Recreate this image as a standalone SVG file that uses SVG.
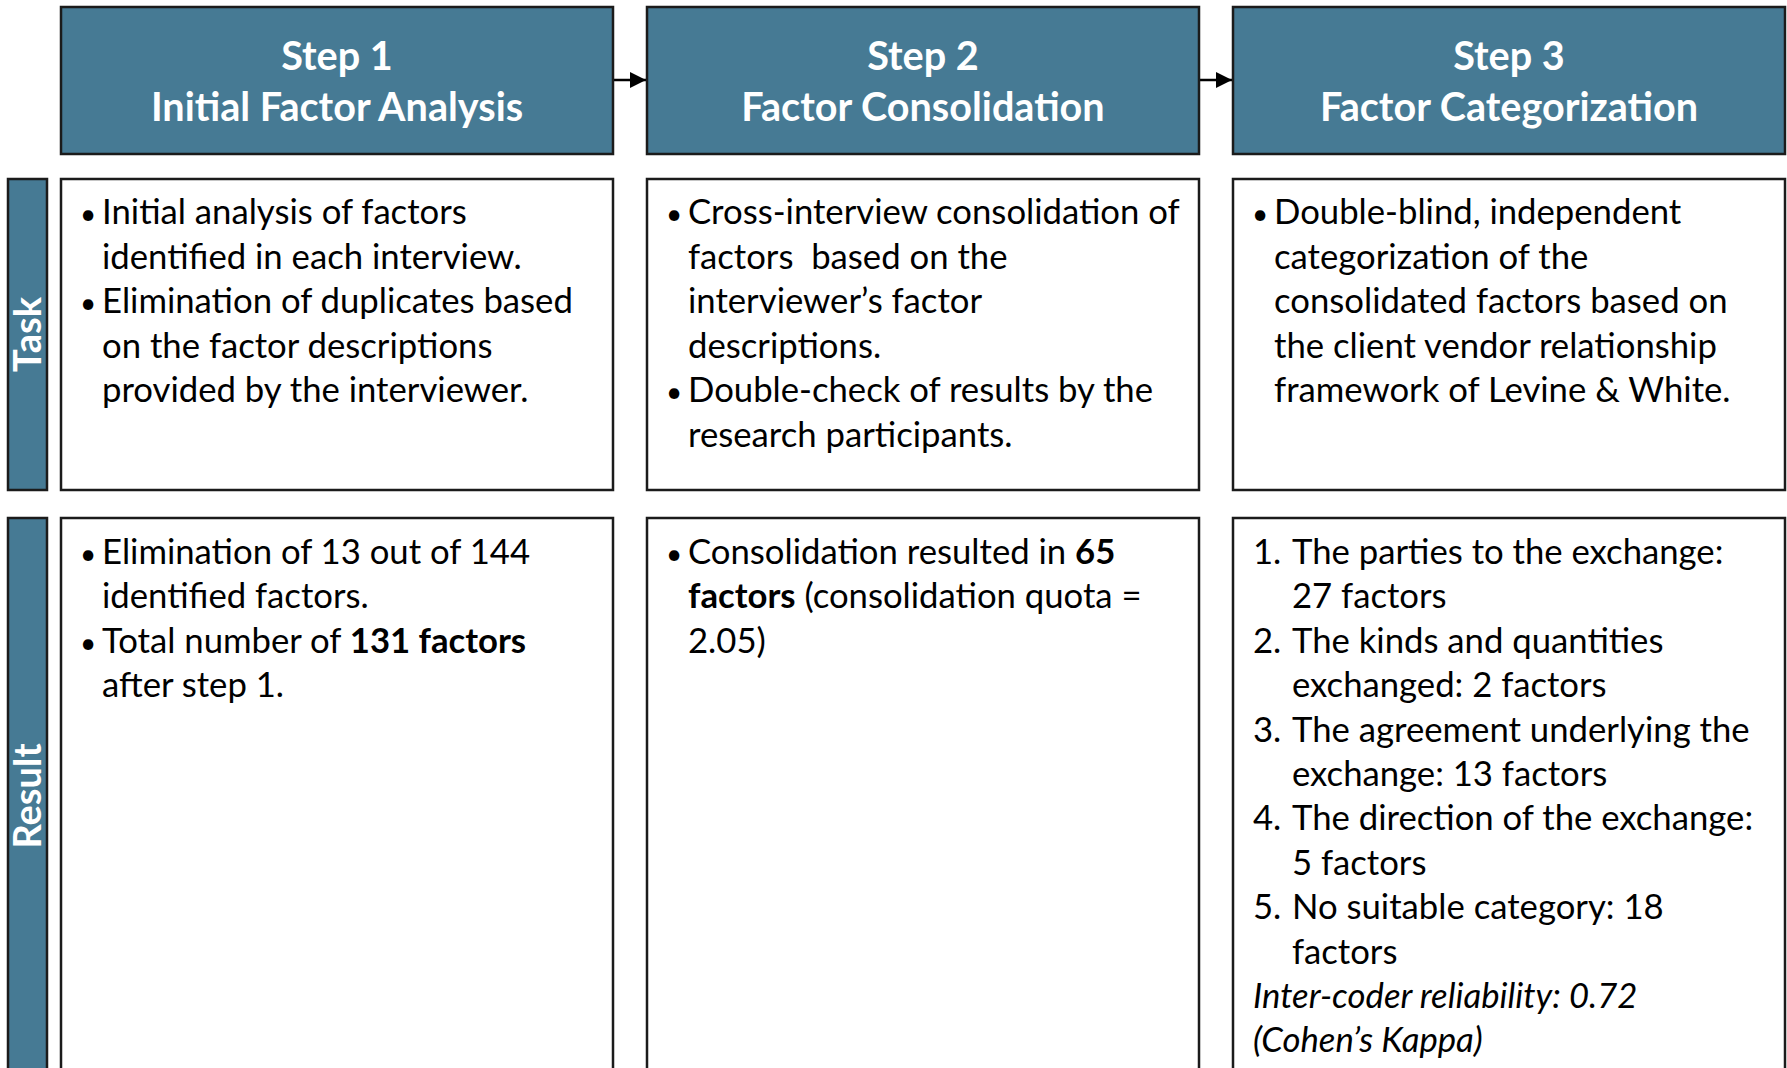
<svg xmlns="http://www.w3.org/2000/svg" width="1787" height="1068" viewBox="0 0 1787 1068">
  <defs>
    <style>
      .head { fill: #467a94; stroke: #1b1b1b; stroke-width: 2.5; }
      .box { fill: #ffffff; stroke: #1b1b1b; stroke-width: 2.5; }
      .side { fill: #467a94; stroke: #1b1b1b; stroke-width: 2.5; }
      .htxt { font-family: "Lato", "Open Sans", sans-serif; font-weight: 700; font-size: 39.6px; fill: #ffffff; text-anchor: middle; }
      .stxt { font-family: "Lato", "Open Sans", sans-serif; font-weight: 700; font-size: 38px; fill: #ffffff; text-anchor: middle; }
      .btxt { font-family: "Lato", "Open Sans", sans-serif; font-size: 34.7px; fill: #000000; white-space: pre; }
      .dot { font-size: 28px; }
      .b { font-weight: 700; }
      .i { font-style: italic; }
      .link { stroke: #000000; stroke-width: 2.5; fill: none; }
    </style>
    <marker id="arrowhead" markerWidth="16" markerHeight="16" refX="16" refY="8" orient="auto" markerUnits="userSpaceOnUse">
      <path d="M0,0 L16,8 L0,16 Z" fill="#000000"/>
    </marker>
  </defs>

  <!-- Connectors between step headers -->
  <g id="connectors">
    <line class="link" x1="613" y1="80" x2="646" y2="80" marker-end="url(#arrowhead)"/>
    <line class="link" x1="1199" y1="80" x2="1232" y2="80" marker-end="url(#arrowhead)"/>
  </g>

  <!-- Step headers -->
  <g id="step1">
    <rect class="head" x="61" y="7" width="552" height="147"/>
    <text class="htxt" x="337" y="70">Step 1</text>
    <text class="htxt" x="337" y="121">Initial Factor Analysis</text>
  </g>
  <g id="step2">
    <rect class="head" x="647" y="7" width="552" height="147"/>
    <text class="htxt" x="923" y="70">Step 2</text>
    <text class="htxt" x="923" y="121">Factor Consolidation</text>
  </g>
  <g id="step3">
    <rect class="head" x="1233" y="7" width="552" height="147"/>
    <text class="htxt" x="1509" y="70">Step 3</text>
    <text class="htxt" x="1509" y="121">Factor Categorization</text>
  </g>

  <!-- Row labels -->
  <g id="label-task">
    <rect class="side" x="8" y="179" width="39" height="311"/>
    <text class="stxt" transform="translate(41,334.5) rotate(-90)">Task</text>
  </g>
  <g id="label-result">
    <rect class="side" x="8" y="518" width="39" height="560"/>
    <text class="stxt" transform="translate(41,796) rotate(-90)">Result</text>
  </g>

  <!-- Task row -->
  <g id="task1">
    <rect class="box" x="61" y="179" width="552" height="311"/>
    <text class="btxt">
      <tspan class="dot" x="80" y="224">•</tspan><tspan x="102" y="224">Initial analysis of factors</tspan>
      <tspan x="102" y="268.5">identified in each interview.</tspan>
      <tspan class="dot" x="80" y="313">•</tspan><tspan x="102" y="313">Elimination of duplicates based</tspan>
      <tspan x="102" y="357.5">on the factor descriptions</tspan>
      <tspan x="102" y="402">provided by the interviewer.</tspan>
    </text>
  </g>
  <g id="task2">
    <rect class="box" x="647" y="179" width="552" height="311"/>
    <text class="btxt">
      <tspan class="dot" x="666" y="224">•</tspan><tspan x="688" y="224">Cross-interview consolidation of</tspan>
      <tspan x="688" y="268.5">factors  based on the</tspan>
      <tspan x="688" y="313">interviewer’s factor</tspan>
      <tspan x="688" y="357.5">descriptions.</tspan>
      <tspan class="dot" x="666" y="402">•</tspan><tspan x="688" y="402">Double-check of results by the</tspan>
      <tspan x="688" y="446.5">research participants.</tspan>
    </text>
  </g>
  <g id="task3">
    <rect class="box" x="1233" y="179" width="552" height="311"/>
    <text class="btxt">
      <tspan class="dot" x="1252" y="224">•</tspan><tspan x="1274" y="224">Double-blind, independent</tspan>
      <tspan x="1274" y="268.5">categorization of the</tspan>
      <tspan x="1274" y="313">consolidated factors based on</tspan>
      <tspan x="1274" y="357.5">the client vendor relationship</tspan>
      <tspan x="1274" y="402">framework of Levine &amp; White.</tspan>
    </text>
  </g>

  <!-- Result row -->
  <g id="result1">
    <rect class="box" x="61" y="518" width="552" height="560"/>
    <text class="btxt">
      <tspan class="dot" x="80" y="564">•</tspan><tspan x="102" y="564">Elimination of 13 out of 144</tspan>
      <tspan x="102" y="608.4">identified factors.</tspan>
      <tspan class="dot" x="80" y="652.8">•</tspan><tspan x="102" y="652.8">Total number of <tspan class="b">131 factors</tspan></tspan>
      <tspan x="102" y="697.2">after step 1.</tspan>
    </text>
  </g>
  <g id="result2">
    <rect class="box" x="647" y="518" width="552" height="560"/>
    <text class="btxt">
      <tspan class="dot" x="666" y="564">•</tspan><tspan x="688" y="564">Consolidation resulted in <tspan class="b">65</tspan></tspan>
      <tspan x="688" y="608.4"><tspan class="b">factors</tspan> (consolidation quota =</tspan>
      <tspan x="688" y="652.8">2.05)</tspan>
    </text>
  </g>
  <g id="result3">
    <rect class="box" x="1233" y="518" width="552" height="560"/>
    <text class="btxt">
      <tspan x="1253" y="564">1.</tspan><tspan x="1292" y="564">The parties to the exchange:</tspan>
      <tspan x="1292" y="608.4">27 factors</tspan>
      <tspan x="1253" y="652.8">2.</tspan><tspan x="1292" y="652.8">The kinds and quantities</tspan>
      <tspan x="1292" y="697.2">exchanged: 2 factors</tspan>
      <tspan x="1253" y="741.6">3.</tspan><tspan x="1292" y="741.6">The agreement underlying the</tspan>
      <tspan x="1292" y="786">exchange: 13 factors</tspan>
      <tspan x="1253" y="830.4">4.</tspan><tspan x="1292" y="830.4">The direction of the exchange:</tspan>
      <tspan x="1292" y="874.8">5 factors</tspan>
      <tspan x="1253" y="919.2">5.</tspan><tspan x="1292" y="919.2">No suitable category: 18</tspan>
      <tspan x="1292" y="963.6">factors</tspan>
      <tspan class="i" x="1253" y="1008">Inter-coder reliability: 0.72</tspan>
      <tspan class="i" x="1253" y="1052.4">(Cohen’s Kappa)</tspan>
    </text>
  </g>
</svg>
